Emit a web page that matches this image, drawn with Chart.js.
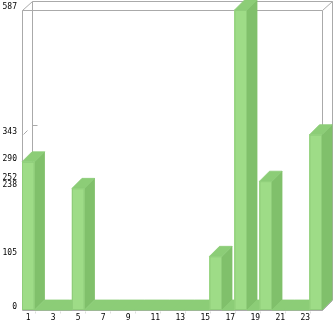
<!DOCTYPE html>
<html>
<head>
<meta charset="utf-8">
<script src="https://cdn.jsdelivr.net/npm/chart.js@4/dist/chart.umd.min.js"></script>
<style>
  html, body { margin: 0; padding: 0; background: #fff; }
  #wrap { width: 333px; height: 321px; }
</style>
</head>
<body>
<div id="wrap"><canvas id="chart" width="333" height="321"></canvas></div>
<script>
const categories = ['1', '2', '3', '4', '5', '6', '7', '8', '9', '10', '11', '12',
    '13', '14', '15', '16', '17', '18', '19', '20', '21', '22', '23', '24'];
const values = [290, 0, 0, 0, 238, 0, 0, 0, 0, 0, 0, 0,
    0, 0, 0, 105, 0, 587, 0, 252, 0, 0, 0, 343];
const yTicks = [0, 105, 238, 252, 290, 343, 587];

const DX = 10, DY = 10;
const FRONT = '#9edc87', SIDE = '#80c06b', TOP = '#8ccd77', EDGE = '#8fcd7a';
const FRAME = '#aaaaaa';
const FONT = '8px "DejaVu Sans Mono"';

function line(ctx, x1, y1, x2, y2) {
    ctx.beginPath();
    ctx.moveTo(x1, y1);
    ctx.lineTo(x2, y2);
    ctx.stroke();
}

function poly(ctx, pts, color) {
    ctx.fillStyle = color;
    ctx.strokeStyle = color;
    ctx.lineWidth = 0.8;
    ctx.beginPath();
    ctx.moveTo(pts[0][0], pts[0][1]);
    for (let i = 1; i < pts.length; i++) ctx.lineTo(pts[i][0], pts[i][1]);
    ctx.closePath();
    ctx.fill();
    ctx.stroke();
}

const box3d = {
    id: 'box3d',
    beforeDatasetsDraw(chart) {
        const ctx = chart.ctx;
        const a = chart.chartArea;
        const y = chart.scales.y;
        ctx.save();
        ctx.strokeStyle = FRAME;
        ctx.lineWidth = 1;
        const L = a.left + 0.5, R = a.right + 0.5, T = a.top + 0.5, B = a.bottom + 0.5;
        // back walls
        line(ctx, L + DX, T - DY + 1, R + DX, T - DY + 1);
        line(ctx, L + DX, T - DY + 1, L + DX, B - DY);
        line(ctx, R + DX, T - DY + 1, R + DX, B - DY);
        line(ctx, L, T, L + DX, T - DY + 1);
        line(ctx, R, T, R + DX, T - DY + 1);
        line(ctx, R, B, R + DX, B - DY);
        // front frame
        line(ctx, L, T, R, T);
        line(ctx, L, T, L, B);
        line(ctx, R, T, R, B);
        line(ctx, L, B, R, B);
        // little marks on the side wall
        yTicks.forEach(v => {
            if (v === 0 || v === 587) return;
            const py = Math.round(y.getPixelForValue(v)) + 0.5;
            line(ctx, L + 1, py - 1, L + 5, py - 5);
            line(ctx, L + DX, py - DY, L + DX + 5, py - DY);
        });
        // x tick marks
        ctx.strokeStyle = '#dddddd';
        const x = chart.scales.x;
        const step = (a.right - a.left) / categories.length;
        for (let i = 1; i < categories.length; i += 2) {
            const px = Math.round(x.getPixelForValue(i) - step / 2) + 0.5;
            line(ctx, px, B + 1, px, B + 3);
        }
        ctx.restore();
    },
    afterDatasetsDraw(chart) {
        const ctx = chart.ctx;
        const meta = chart.getDatasetMeta(0);
        ctx.save();
        meta.data.forEach(bar => {
            const p = bar.getProps(['x', 'y', 'base', 'width'], true);
            const l = p.x - p.width / 2, r = p.x + p.width / 2;
            const t = p.y, b = p.base;
            // side
            poly(ctx, [[r, b], [r, t], [r + DX, t - DY], [r + DX, b - DY]], SIDE);
            // top
            poly(ctx, [[l, t], [r, t], [r + DX, t - DY], [l + DX, t - DY]], TOP);
            // front
            if (b - t > 0.5) {
                ctx.fillStyle = FRONT;
                ctx.fillRect(l, t, r - l, b - t);
                ctx.strokeStyle = EDGE;
                ctx.lineWidth = 1;
                ctx.strokeRect(l + 0.5, t + 0.5, r - l - 1, b - t - 1);
            }
        });
        // axis labels
        const x = chart.scales.x;
        const y = chart.scales.y;
        ctx.fillStyle = '#000';
        ctx.font = FONT;
        ctx.textBaseline = 'middle';
        ctx.textAlign = 'right';
        yTicks.forEach(v => {
            ctx.fillText(String(v), 17, Math.max(5, y.getPixelForValue(v) - 3));
        });
        ctx.textAlign = 'center';
        categories.forEach((c, i) => {
            if (i % 2 !== 0) return;
            ctx.fillText(c, x.getPixelForValue(i) + (c.length > 1 ? 2 : 0), chart.chartArea.bottom + 8);
        });
        ctx.restore();
    }
};

new Chart(document.getElementById('chart'), {
    type: 'bar',
    data: {
        labels: categories,
        datasets: [{
            data: values,
            backgroundColor: FRONT,
            borderWidth: 0,
            barPercentage: 1,
            categoryPercentage: 1
        }]
    },
    options: {
        responsive: false,
        animation: false,
        events: [],
        layout: { padding: { left: 22, top: 10, right: 11, bottom: 11 } },
        plugins: { legend: { display: false }, tooltip: { enabled: false } },
        scales: {
            x: { display: false },
            y: { display: false, min: 0, max: 587 }
        }
    },
    plugins: [box3d]
});
</script>
</body>
</html>
